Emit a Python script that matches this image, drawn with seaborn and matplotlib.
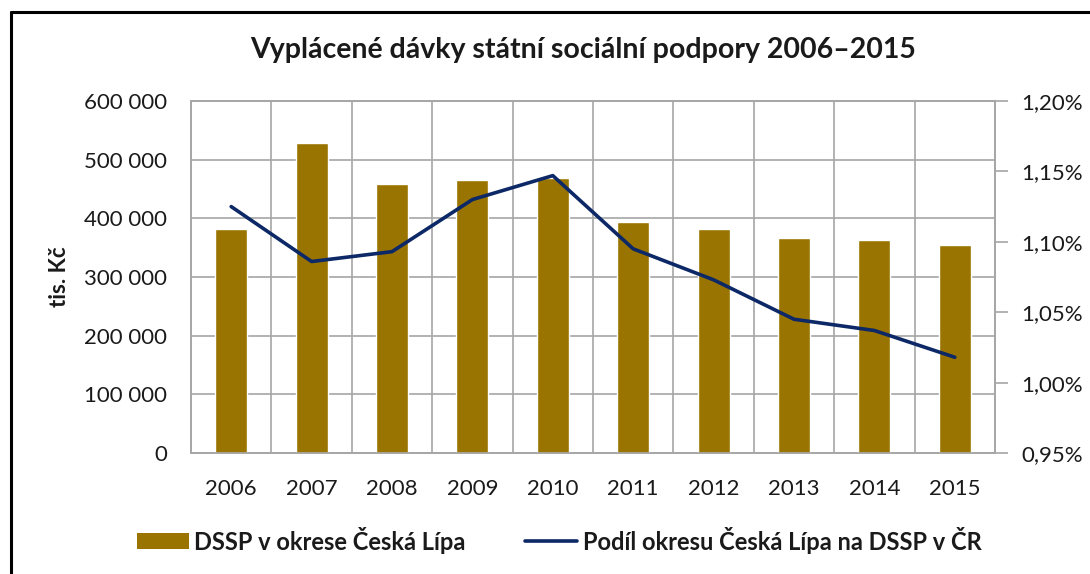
import pandas as pd
import matplotlib.pyplot as plt
import seaborn as sns
from matplotlib.lines import Line2D
from matplotlib.patches import Patch
from matplotlib.ticker import FuncFormatter, FixedLocator

# Data
years = ['2006', '2007', '2008', '2009', '2010', '2011', '2012', '2013', '2014', '2015']
dssp = [382000, 528000, 458000, 465000, 469000, 394000, 382000, 367000, 363000, 355000]
podil = [1.125, 1.086, 1.093, 1.130, 1.147, 1.095, 1.073, 1.045, 1.037, 1.018]

bar_label = 'DSSP v okrese Česká Lípa'
line_label = 'Podíl okresu Česká Lípa na DSSP v ČR'
title = 'Vyplácené dávky státní sociální podpory 2006–2015'

df = pd.DataFrame({'rok': years, 'dssp': dssp, 'podil': podil})

sns.set_style('white')
plt.rcParams['font.family'] = ['Lato', 'DejaVu Sans']
plt.rcParams['font.size'] = 16

bar_color = '#9A7400'
line_color = '#0C2866'
grid_color = '#A6A6A6'
text_color = '#1A1A1A'

fig = plt.figure(figsize=(10.9, 5.74), dpi=100)
ax = fig.add_axes([191 / 1090, 1 - 453 / 574, 804 / 1090, 352 / 574])

sns.barplot(data=df, x='rok', y='dssp', color=bar_color, width=0.4,
            saturation=1, ax=ax, zorder=3)
ax.set_ylim(0, 600000)
ax.set_xlim(-0.5, len(years) - 0.5)
ax.yaxis.set_major_locator(FixedLocator(range(0, 600001, 100000)))
ax.yaxis.set_major_formatter(FuncFormatter(lambda v, p: f'{int(v):,}'.replace(',', ' ')))
ax.xaxis.set_minor_locator(FixedLocator([i - 0.5 for i in range(len(years) + 1)]))
ax.grid(True, axis='y', which='major', color=grid_color, lw=1.2, zorder=0)
ax.grid(True, axis='x', which='minor', color=grid_color, lw=1.2, zorder=0)
ax.grid(False, axis='x', which='major')
ax.set_axisbelow(True)
ax.tick_params(axis='both', which='both', length=0, colors=text_color, labelsize=16)
ax.tick_params(axis='x', pad=19)
ax.tick_params(axis='y', pad=17)
ax.set_xlabel('')
ax.set_ylabel('tis. Kč', fontweight='bold', fontsize=16, color=text_color)
ax.yaxis.set_label_coords(-0.150, 0.5)

ax2 = ax.twinx()
sns.lineplot(data=df, x='rok', y='podil', color=line_color, lw=2.6, ax=ax2,
             legend=False, zorder=4)
ax2.set_xlim(-0.5, len(years) - 0.5)
ax2.set_ylim(0.95, 1.20)
ax2.yaxis.set_major_locator(FixedLocator([0.95, 1.00, 1.05, 1.10, 1.15, 1.20]))
ax2.yaxis.set_major_formatter(FuncFormatter(lambda v, p: f'{v:.2f}%'.replace('.', ',')))
ax2.tick_params(axis='y', length=9, width=1.2, color=grid_color, colors=text_color,
                labelsize=16, pad=10)
ax2.tick_params(axis='y', color=grid_color)
ax2.set_ylabel('')

for a in (ax, ax2):
    for s in a.spines.values():
        s.set_color(grid_color)
        s.set_linewidth(1.2)

fig.text(583 / 1090, 1 - 50 / 574, title, ha='center', va='center',
         fontsize=20.5, fontweight='bold', color=text_color)

handles = [Patch(facecolor=bar_color, edgecolor='none'),
           Line2D([], [], color=line_color, lw=2.6)]
fig.legend(handles, [bar_label, line_label], loc='center', ncol=2,
           bbox_to_anchor=(559 / 1090, 1 - 540 / 574), frameon=False,
           prop={'weight': 'bold', 'size': 17}, handlelength=2.2,
           handleheight=0.65, handletextpad=0.25, columnspacing=2.5,
           labelcolor=text_color)

# black frame on the left and top
fig.add_artist(Line2D([10.5 / 1090, 10.5 / 1090], [0, 1 - 11.5 / 574],
                      transform=fig.transFigure, color='black', lw=2.2))
fig.add_artist(Line2D([10.5 / 1090, 1], [1 - 11.5 / 574, 1 - 11.5 / 574],
                      transform=fig.transFigure, color='black', lw=2.2))

fig.savefig('out.png', dpi=100)
